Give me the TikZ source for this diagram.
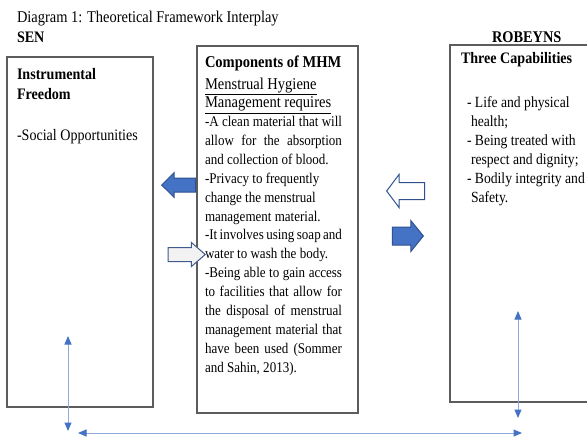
\documentclass[tikz,border=0pt]{standalone}
\usepackage{fontspec}
\setmainfont{Liberation Serif}[FakeStretch=0.88]
\usetikzlibrary{arrows.meta,shapes.arrows}
\definecolor{boxgray}{HTML}{5C5C5C}
\definecolor{arrowblue}{HTML}{4472C4}
\definecolor{arrowedge}{HTML}{2F528F}
\definecolor{lineblue}{HTML}{8EA9DB}
\definecolor{paleblock}{HTML}{F2F2F2}
\newcommand\jline[1]{\makebox[\linewidth][s]{#1}}
\newcommand\bigline[1]{{\fontsize{16.5}{18.87}\selectfont\underline{#1}}}
\begin{document}
\begin{tikzpicture}[x=1pt,y=-1pt,
  txt/.style={inner sep=0pt,outer sep=0pt,anchor=base west},
  framebox/.style={draw=boxgray,line width=1.3pt,inner sep=0pt,outer sep=0pt,anchor=north west},
  blockarrow/.style={single arrow,inner xsep=0pt,minimum width=1pt,line width=1pt,anchor=tip},
  thinarrow/.style={draw=lineblue,line width=1pt,
    {Triangle[width=7pt,length=8.5pt,color=arrowblue]}-{Triangle[width=7pt,length=8.5pt,color=arrowblue]}}]
\clip (0,0) rectangle (587,439);
\fill[white] (0,0) rectangle (587,439);
% boxes
\node[framebox,minimum width=146pt,minimum height=350pt] (L) at (7,57) {};
\node[framebox,minimum width=161pt,minimum height=367pt] (M) at (197,46) {};
\node[framebox,minimum width=160pt,minimum height=357pt] (R) at (450,45) {};
% headings
\node[txt,font=\fontsize{16.4}{19}\selectfont] (title) at (17,22) {Diagram 1: Theoretical Framework Interplay};
\node[txt,font=\fontsize{16}{19}\selectfont\bfseries] (sen) at (17,42) {SEN};
\node[txt,font=\fontsize{16.3}{19}\selectfont\bfseries] (rob) at (492,42) {ROBEYNS};
% left box text
\node[txt,font=\fontsize{16}{20.5}\selectfont] (Ltxt) at (17,79) {\parbox[t]{130pt}{\textbf{Instrumental}\\\textbf{Freedom}\\[20.5pt]-Social Opportunities}};
% middle box text
\node[txt,font=\fontsize{16.5}{19}\selectfont\bfseries] (Mhead) at (205,67) {Components of MHM};
\node[txt,font=\fontsize{14.8}{18.87}\selectfont] (Mtxt) at (205,89) {\parbox[t]{137pt}{%
\bigline{Menstrual Hygiene}\\
\bigline{Management requires}\\
\jline{-A clean material that will}\\
\jline{allow for the absorption}\\
and collection of blood.\\
-Privacy to frequently\\
change the menstrual\\
management material.\\
\jline{-It involves using soap and}\\
water to wash the body.\\
\jline{-Being able to gain access}\\
\jline{to facilities that allow for}\\
\jline{the disposal of menstrual}\\
\jline{management material that}\\
\jline{have been used (Sommer}\\
and Sahin, 2013).}};
% right box text
\node[txt,font=\fontsize{16}{19}\selectfont\bfseries] (Rhead) at (461,63) {Three Capabilities};
\node[txt,font=\fontsize{15.5}{19}\selectfont] (Rtxt) at (467,107) {\parbox[t]{125pt}{%
- Life and physical\\
\hspace*{4pt}health;\\
- Being treated with\\
\hspace*{4pt}respect and dignity;\\
- Bodily integrity and\\
\hspace*{4pt}Safety.}};
% block arrows
\node[blockarrow,fill=arrowblue,draw=arrowedge,shape border rotate=180,
  inner ysep=6.5pt,single arrow head extend=5.5pt,single arrow tip angle=90,minimum height=34pt] (A1) at (161,185) {};
\node[blockarrow,fill=paleblock,draw=arrowedge!80!gray,
  inner ysep=6.5pt,single arrow head extend=5pt,single arrow tip angle=82,minimum height=37pt] (A2) at (206,254.5) {};
\node[blockarrow,fill=white,draw=arrowedge,shape border rotate=180,
  inner ysep=8pt,single arrow head extend=8pt,single arrow tip angle=106,minimum height=38pt] (A3) at (386,191) {};
\node[blockarrow,fill=arrowblue,draw=arrowedge,
  inner ysep=8.5pt,single arrow head extend=6.5pt,single arrow tip angle=102,minimum height=31pt] (A4) at (424,236) {};
% thin double arrows
\coordinate (lv1) at (68,336);
\coordinate (lv2) at (68,431);
\coordinate (rv1) at (518,311);
\coordinate (rv2) at (518,418);
\coordinate (h1) at (78,433);
\coordinate (h2) at (522,433);
\draw[thinarrow] (lv1) -- (lv2);
\draw[thinarrow] (rv1) -- (rv2);
\draw[thinarrow] (h1) -- (h2);
\end{tikzpicture}
\end{document}
